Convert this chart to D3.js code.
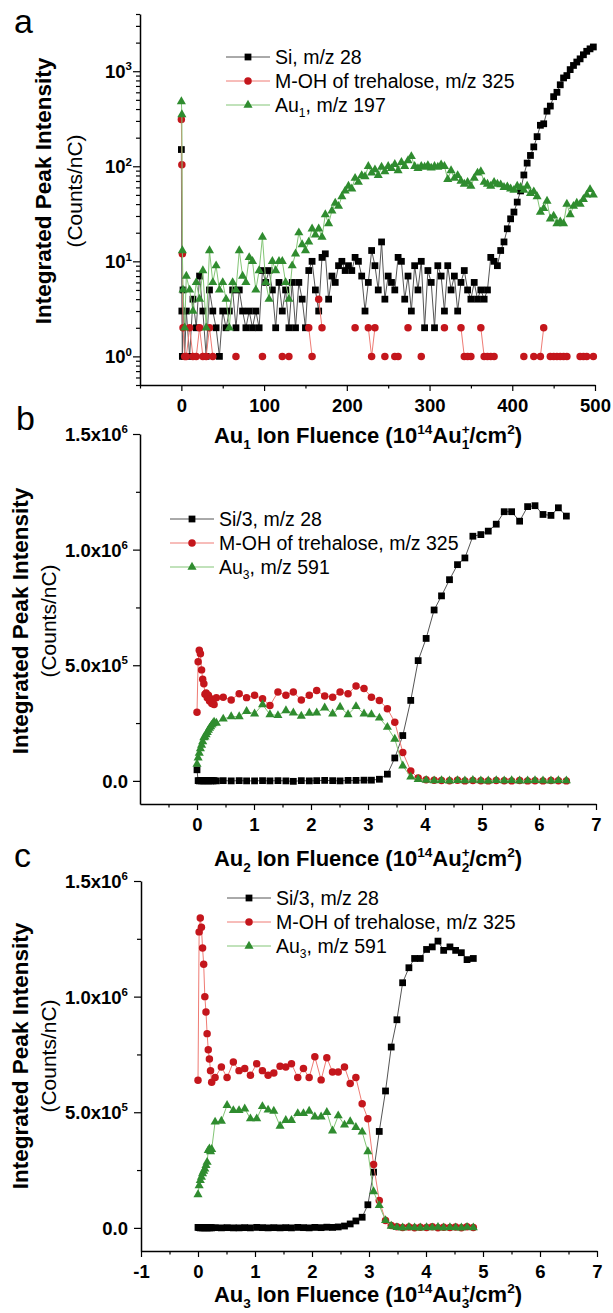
<!DOCTYPE html>
<html>
<head>
<meta charset="utf-8">
<script src="https://cdn.jsdelivr.net/npm/d3@7"></script>
<style>
body { margin: 0; background: #fff; }
svg { display: block; font-family: "Liberation Sans", Arial, sans-serif; }
</style>
</head>
<body>
<svg id="chart"></svg>
<script>
const svg_width = 613;
const svg_height = 1313;

// ---------- panel a : Au1 primary beam (log scale) ----------
const fluenceA = [0, 0.6, 1.2, 2, 4,
  6, 10, 14, 18, 22, 26, 30, 34, 38, 42, 46, 50,
  54, 58, 62, 66, 70, 74, 78, 82, 86, 90, 94, 98,
  102, 106, 110, 114, 118, 122, 126, 130, 134, 138, 142, 146, 150,
  154, 158, 162, 166, 170, 174, 178, 182, 186, 190, 194, 198,
  202, 206, 210, 214, 218, 222, 226, 230, 234, 238, 242, 246, 250,
  254, 258, 262, 266, 270, 274, 278, 282, 286, 290, 294, 298,
  302, 306, 310, 314, 318, 322, 326, 330, 334, 338, 342, 346, 350,
  354, 358, 362, 366, 370,
  374, 378, 382, 386, 390, 394, 398, 402, 406, 410, 414, 418, 422, 426, 430, 434,
  438, 442, 446, 450, 454, 458, 462, 466, 470, 474, 478, 482, 486, 490, 494, 498];
const siA = [150, 3, 1, 5, 1,
  3, 1, 4, 2, 7, 3, 1, 5, 3, 2, 1, 3,
  2, 3, 5, 2, 5, 3, 2, 3, 2, 3, 2, 8,
  6, 8, 5, 2, 6, 3, 5, 2, 6, 2, 6, 4, 2,
  8, 10, 5, 3, 11, 12, 4, 7, 6, 9, 10, 8,
  9, 8, 11, 10, 7, 3, 6, 13, 9, 5, 16, 4, 7,
  6, 5, 11, 10, 4, 7, 3, 9, 5, 10, 2, 8,
  6, 2, 9, 7, 3, 9, 5, 7, 3, 6, 8, 5, 4,
  6, 4, 5, 4, 5,
  11, 10, 9, 13, 16, 22, 28, 33, 42, 55, 81, 108, 130, 160, 205, 270,
  280, 380, 430, 540, 600, 720, 850, 900, 1040, 1150, 1250, 1350, 1490, 1620, 1720, 1800];
const mohA = [310, 104, 12, 2, 1,
  1, 2, 1, 1, 2, 1, 1, 2, 1, 0, 0, 0,
  0, 0, 0, 1, 0, 0, 0, 0, 0, 0, 0, 1,
  0, 0, 0, 0, 0, 1, 0, 1, 0, 0, 0, 0, 0,
  2, 1, 0, 4, 2, 0, 0, 0, 0, 0, 0, 0,
  0, 0, 2, 0, 0, 0, 2, 1, 2, 0, 0, 1, 0,
  0, 1, 1, 0, 0, 2, 0, 0, 0, 1, 0, 0,
  0, 0, 0, 0, 2, 0, 0, 0, 0, 2, 1, 1, 1,
  0, 0, 2, 1, 1,
  1, 1, 0, 0, 0, 0, 0, 0, 0, 0, 1, 0, 0, 1, 0, 1,
  2, 0, 1, 1, 1, 1, 1, 1, 0, 0, 0, 1, 1, 1, 0, 1];
const auA = [480, 350, 13, 5, 2,
  7, 5, 3, 6, 4, 8, 2, 13, 6, 9, 5, 6,
  4, 2, 6, 5, 13, 7, 6, 11, 10, 5, 8, 18,
  6, 4, 10, 8, 10, 10, 6, 4, 9, 12, 20, 15, 13,
  16, 22, 19, 22, 18, 31, 25, 34, 41, 38, 48, 55,
  62, 58, 75, 68, 80, 78, 100, 85, 92, 80, 98, 88, 100,
  95, 105, 90, 110, 100, 115, 127, 100, 95, 100, 98, 102,
  96, 100, 98, 104, 100, 73, 90, 75, 80, 70, 65, 68, 62,
  75, 85, 88, 68, 65,
  62, 68, 65, 64, 60, 61, 58, 56, 62, 60, 56, 62, 52, 54, 48, 33,
  36, 43, 28, 30, 25, 26, 25, 40, 31, 38, 41, 40, 45, 50, 57, 50];

// ---------- panel b : Au2 primary beam ----------
const fluenceB = [0, 0.02, 0.04, 0.06, 0.08, 0.1, 0.12, 0.14, 0.16, 0.18, 0.2, 0.22, 0.24, 0.26, 0.28, 0.3, 0.34,
  0.46, 0.6, 0.74, 0.87, 1.01, 1.15, 1.28, 1.42, 1.56, 1.69, 1.83, 1.97, 2.1, 2.24, 2.38, 2.51, 2.65, 2.79, 2.93, 3.06,
  3.2, 3.34, 3.47, 3.61, 3.75, 3.88, 4.02, 4.16, 4.29, 4.43, 4.57, 4.7, 4.84, 4.98, 5.11, 5.25, 5.39, 5.52, 5.66, 5.8,
  5.93, 6.07, 6.21, 6.34, 6.48];
const siB = [4.8e4, 1e3, 0, 1e3, 0, 1e3, 0, 1e3, 0, 1e3, 0, 1e3, 0, 1e3, 0, 1e3, 0,
  1e3, 0, 1e3, 0, 0, 1e3, 0, 1e3, 0, -2e3, 1e3, 0, 1e3, 2e3, 1e3, 0, 2e3, 2e3, 3e3, 3e3,
  7e3, 2.9e4, 9.9e4, 1.96e5, 3.48e5, 5.2e5, 6.16e5, 7.39e5, 8.0e5, 8.7e5, 9.35e5, 9.64e5, 1.058e6, 1.065e6, 1.08e6,
  1.11e6, 1.164e6, 1.164e6, 1.123e6, 1.186e6, 1.19e6, 1.152e6, 1.148e6, 1.181e6, 1.145e6];
const mohB = [2.97e5, 5.15e5, 5.65e5, 5.5e5, 4.8e5, 4.4e5, 4.2e5, 3.75e5, 3.8e5, 3.6e5, 3.7e5, 3.45e5, 3.55e5, 3.35e5, 3.45e5, 3.3e5, 3.6e5,
  3.62e5, 3.5e5, 3.77e5, 3.6e5, 3.7e5, 3.55e5, 3.26e5, 3.84e5, 3.7e5, 3.84e5, 3.5e5, 3.7e5, 3.91e5, 3.67e5, 3.62e5, 3.84e5, 3.77e5, 4.1e5, 3.99e5, 3.62e5,
  3.48e5, 3.12e5, 2.54e5, 1.23e5, 4.3e4, 1.2e4, 5e3, 3e3, 2e3, 1e3, 3e3, 0, 2e3, 1e3, 0,
  2e3, 1e3, 0, 2e3, 0, 1e3, 0, 2e3, 1e3, 0];
const auB = [7.3e4, 1.0e5, 1.2e5, 1.4e5, 1.55e5, 1.7e5, 1.87e5, 1.9e5, 2.0e5, 2.1e5, 2.2e5, 2.28e5, 2.35e5, 2.42e5, 2.48e5, 2.55e5, 2.5e5,
  2.68e5, 2.78e5, 2.78e5, 3.01e5, 2.9e5, 3.3e5, 2.87e5, 2.83e5, 3.04e5, 2.94e5, 2.8e5, 2.93e5, 2.94e5, 3.16e5, 2.9e5, 3.19e5, 2.87e5, 3.22e5, 2.9e5, 2.87e5,
  2.72e5, 2.32e5, 1.81e5, 6.5e4, 1.7e4, 7e3, 3e3, 1e3, 2e3, 0, 2e3, 1e3, 3e3, 1e3, 0,
  2e3, 1e3, 2e3, 0, 1e3, 2e3, 1e3, 0, 2e3, 1e3];

// ---------- panel c : Au3 primary beam ----------
const fluenceC = [0, 0.02, 0.04, 0.06, 0.08, 0.1, 0.12, 0.14, 0.16, 0.18, 0.2, 0.22, 0.24, 0.3,
  0.41, 0.51, 0.62, 0.72, 0.82, 0.92, 1.03, 1.13, 1.23, 1.33, 1.44, 1.54, 1.64, 1.75, 1.85, 1.95, 2.05, 2.16, 2.26, 2.36, 2.46,
  2.57, 2.67, 2.77, 2.88, 2.98, 3.08, 3.18, 3.29, 3.39, 3.49, 3.59, 3.7, 3.8, 3.9, 4.01, 4.11, 4.21, 4.31, 4.42, 4.52, 4.62, 4.72, 4.83];
const siC = [2e3, 1e3, 0, 1e3, 0, 1e3, 0, 1e3, 0, 1e3, 0, 1e3, 0, 1e3,
  0, 1e3, 0, 0, 1e3, 0, 2e3, 1e3, 0, 1e3, 0, 1e3, 0, 2e3, 1e3, 0, 2e3, 1e3, 3e3, 2e3, 4e3,
  8e3, 1.7e4, 3.0e4, 4.6e4, 1.0e5, 2.41e5, 4.17e5, 5.92e5, 7.82e5, 9.0e5, 1.06e6, 1.125e6, 1.165e6, 1.165e6, 1.204e6, 1.215e6,
  1.24e6, 1.2e6, 1.215e6, 1.2e6, 1.19e6, 1.16e6, 1.165e6];
const mohC = [6.38e5, 1.28e6, 1.34e6, 1.3e6, 1.21e6, 1.14e6, 1.0e6, 9.34e5, 8.4e5, 7.7e5, 7.3e5, 6.8e5, 6.3e5, 6.5e5,
  6.96e5, 6.5e5, 7.17e5, 6.8e5, 6.89e5, 6.6e5, 7.1e5, 6.8e5, 6.6e5, 6.7e5, 6.99e5, 6.96e5, 7.1e5, 6.5e5, 6.89e5, 6.5e5, 7.4e5, 6.4e5, 7.36e5, 6.74e5, 6.74e5,
  6.96e5, 6.24e5, 6.5e5, 5.37e5, 4.72e5, 2.74e5, 1.18e5, 3.2e4, 1e4, 5e3, 2e3, 4e3, 1e3, 3e3, 2e3, 5e3, 1e3, 3e3, 2e3, 4e3, 1e3, 5e3, 2e3];
const auC = [1.44e5, 1.83e5, 2.05e5, 2.2e5, 2.35e5, 2.45e5, 2.55e5, 2.7e5, 2.84e5, 3.35e5, 3.42e5, 3.3e5, 3.4e5, 4.58e5,
  4.62e5, 5.3e5, 5.08e5, 5.08e5, 5.15e5, 4.72e5, 4.72e5, 5.25e5, 5.1e5, 5.05e5, 4.4e5, 4.65e5, 4.65e5, 4.95e5, 4.95e5, 5.05e5, 4.8e5, 4.8e5, 5.0e5, 4.2e5, 4.85e5,
  4.45e5, 4.6e5, 4.35e5, 4.15e5, 3.3e5, 1.57e5, 9.7e4, 3.2e4, 8e3, 2e3, 0, 3e3, 1e3, 0, 2e3, 1e3, 3e3, 0, 2e3, 1e3, 0, 3e3, 1e3];

// ---------- ticks and labels ----------
const xTicksA = [0, 100, 200, 300, 400, 500];
const xMinorA = [-50, 50, 150, 250, 350, 450];
const yTicksA = [1, 10, 100, 1000];
const yLabelsA = ["10^{0}", "10^{1}", "10^{2}", "10^{3}"];
const yMinorA = [0.5, 0.6, 0.7, 0.8, 0.9, 2, 3, 4, 5, 6, 7, 8, 9, 20, 30, 40, 50, 60, 70, 80, 90,
  200, 300, 400, 500, 600, 700, 800, 900, 2000, 3000, 4000];
const xTicksB = [0, 1, 2, 3, 4, 5, 6, 7];
const xTicksC = [-1, 0, 1, 2, 3, 4, 5, 6, 7];
const xMinorBC = [-0.5, 0.5, 1.5, 2.5, 3.5, 4.5, 5.5, 6.5];
const yTicksBC = [0, 5e5, 1e6, 1.5e6];
const yLabelsBC = ["0.0", "5.0x10^{5}", "1.0x10^{6}", "1.5x10^{6}"];
const yMinorBC = [2.5e5, 7.5e5, 1.25e6];

const legendA = ["Si, m/z 28", "M-OH of trehalose, m/z 325", "Au_{1}, m/z 197"];
const legendBC = ["Si/3, m/z 28", "M-OH of trehalose, m/z 325", "Au_{3}, m/z 591"];
const xTitles = ["Au_{1} Ion Fluence (10^{14}Au^{+}_{1}/cm^{2})",
  "Au_{2} Ion Fluence (10^{14}Au^{+}_{2}/cm^{2})",
  "Au_{3} Ion Fluence (10^{14}Au^{+}_{3}/cm^{2})"];

const siStyle = {shape: d3.symbolSquare, size: 46, color: "#000", line: "#555"};
const mohStyle = {shape: d3.symbolCircle, size: 44, color: "#c4161c", line: "#ef7b74"};
const auStyle = {shape: d3.symbolTriangle, size: 36, color: "#2f8c2f", line: "#83c576"};

const svg = d3.select("#chart")
    .attr("width", svg_width)
    .attr("height", svg_height);

// text with ^{sup} and _{sub} parts
function rich(text, str, fs) {
    const parts = str.split(/(\^\{[^}]*\}|_\{[^}]*\})/).filter(p => p !== "");
    let cur = 0, prev = null, prevType = null;
    parts.forEach(p => {
        let type = "n", t = p;
        if (p.startsWith("^{")) { type = "sup"; t = p.slice(2, -1); }
        else if (p.startsWith("_{")) { type = "sub"; t = p.slice(2, -1); }
        const target = type === "sup" ? -0.42 * fs : type === "sub" ? 0.28 * fs : 0;
        const ts = text.append("tspan")
            .text(t)
            .attr("dy", target - cur)
            .style("font-size", (type === "n" ? fs : 0.62 * fs) + "px");
        if (type === "sub" && prevType === "sup") ts.attr("dx", -prev.node().getComputedTextLength());
        cur = target; prev = ts; prevType = type;
    });
}

function drawPanel(p) {
    const g = svg.append("g");
    const x = d3.scaleLinear().domain(p.xDomain).range([p.left, p.right]);
    const y = (p.log ? d3.scaleLog() : d3.scaleLinear()).domain(p.yDomain).range([p.bottom, p.top]);

    // minor ticks
    g.append("g").attr("transform", `translate(0,${p.bottom})`)
        .call(d3.axisBottom(x).tickValues(p.xMinor).tickSize(3.5).tickSizeOuter(0).tickFormat(""))
        .call(a => a.select(".domain").remove());
    g.append("g").attr("transform", `translate(${p.left},0)`)
        .call(d3.axisLeft(y).tickValues(p.yMinor).tickSize(4).tickSizeOuter(0).tickFormat(""))
        .call(a => a.select(".domain").remove());

    // major x axis
    const xa = g.append("g").attr("transform", `translate(0,${p.bottom})`)
        .call(d3.axisBottom(x).tickValues(p.xTicks).tickSize(6).tickSizeOuter(0).tickFormat(d => String(d)));
    xa.selectAll("text")
        .attr("y", 27).attr("dy", null)
        .attr("fill", "#000")
        .style("font-size", "18.5px").style("font-weight", "bold");

    // major y axis
    const ya = g.append("g").attr("transform", `translate(${p.left},0)`)
        .call(d3.axisLeft(y).tickValues(p.yTicks).tickSize(7).tickSizeOuter(0).tickFormat(""));
    ya.selectAll(".tick").each(function(d, i) {
        const t = d3.select(this).select("text")
            .attr("x", p.labelX - p.left).attr("y", 6.5).attr("dy", null)
            .attr("fill", "#000").attr("text-anchor", "end")
            .style("font-weight", "bold");
        rich(t, p.yLabels[i], 18.5);
    });

    [xa, ya].forEach(a => {
        a.attr("font-size", null).attr("font-family", null);
        a.select(".domain").attr("stroke-width", 1.5);
    });
    g.selectAll(".tick line").attr("stroke-width", 1.2);

    // series
    p.series.forEach(s => {
        const pts = p.fluence.map((f, i) => ({x: f, y: s.values[i]}))
            .filter(d => d.y !== undefined);
        const ok = d => !p.log || d.y > 0;
        g.append("path").datum(pts)
            .attr("fill", "none")
            .attr("stroke", s.style.line)
            .attr("stroke-width", 1)
            .attr("d", d3.line().defined(ok).x(d => x(d.x)).y(d => y(d.y)));
        g.append("g").selectAll("path")
            .data(pts.filter(ok))
            .join("path")
            .attr("transform", d => `translate(${x(d.x)},${y(d.y)})`)
            .attr("d", d3.symbol(s.style.shape, s.style.size))
            .attr("fill", s.style.color);
    });

    // legend
    p.series.forEach((s, i) => {
        const cy = p.legY + i * 24;
        g.append("line")
            .attr("x1", p.legX).attr("x2", p.legX + 44)
            .attr("y1", cy).attr("y2", cy)
            .attr("stroke", s.style.line).attr("stroke-width", 1);
        g.append("path")
            .attr("transform", `translate(${p.legX + 22},${cy})`)
            .attr("d", d3.symbol(s.style.shape, s.style.size))
            .attr("fill", s.style.color);
        const t = g.append("text")
            .attr("x", p.legX + 49).attr("y", cy + 6.8)
            .style("font-size", "19.5px");
        rich(t, p.legend[i], 19.5);
    });

    // axis titles
    const xt = g.append("text")
        .attr("x", 368).attr("y", p.xTitleY)
        .attr("text-anchor", "middle")
        .style("font-size", "22px").style("font-weight", "bold");
    rich(xt, p.xTitle, 22);

    const cy = p.titleCY;
    g.append("text")
        .attr("transform", `translate(${p.titleX},${cy}) rotate(-90)`)
        .attr("text-anchor", "middle")
        .style("font-size", "22.5px").style("font-weight", "bold")
        .text("Integrated Peak Intensity");
    g.append("text")
        .attr("transform", `translate(${p.countsX},${cy}) rotate(-90)`)
        .attr("text-anchor", "middle")
        .style("font-size", "21px")
        .text("(Counts/nC)");

    g.append("text")
        .attr("x", p.tagX).attr("y", p.tagY)
        .style("font-size", "34px")
        .text(p.tag);
}

drawPanel({
    tag: "a", tagX: 14, tagY: 33,
    left: 140, right: 595, top: 14, bottom: 385,
    xDomain: [-50, 500], yDomain: [0.5, 4000], log: true,
    xTicks: xTicksA, xMinor: xMinorA, yTicks: yTicksA, yMinor: yMinorA, yLabels: yLabelsA,
    labelX: 132,
    fluence: fluenceA,
    series: [{values: siA, style: siStyle}, {values: mohA, style: mohStyle}, {values: auA, style: auStyle}],
    legend: legendA, legX: 226, legY: 57,
    xTitle: xTitles[0], xTitleY: 443,
    titleX: 51, countsX: 82, titleCY: 191
});

drawPanel({
    tag: "b", tagX: 16, tagY: 430,
    left: 140, right: 596, top: 434, bottom: 804,
    xDomain: [-1, 7], yDomain: [-1e5, 1.5e6], log: false,
    xTicks: xTicksB, xMinor: xMinorBC, yTicks: yTicksBC, yMinor: yMinorBC, yLabels: yLabelsBC,
    labelX: 128,
    fluence: fluenceB,
    series: [{values: siB, style: siStyle}, {values: mohB, style: mohStyle}, {values: auB, style: auStyle}],
    legend: legendBC, legX: 170, legY: 519,
    xTitle: xTitles[1], xTitleY: 866,
    titleX: 28, countsX: 56, titleCY: 621
});

drawPanel({
    tag: "c", tagX: 14, tagY: 867,
    left: 141, right: 597, top: 881, bottom: 1251,
    xDomain: [-1, 7], yDomain: [-1e5, 1.5e6], log: false,
    xTicks: xTicksC, xMinor: xMinorBC, yTicks: yTicksBC, yMinor: yMinorBC, yLabels: yLabelsBC,
    labelX: 128,
    fluence: fluenceC,
    series: [{values: siC, style: siStyle}, {values: mohC, style: mohStyle}, {values: auC, style: auStyle}],
    legend: legendBC, legX: 227, legY: 898,
    xTitle: xTitles[2], xTitleY: 1302,
    titleX: 28, countsX: 56, titleCY: 1056
});
</script>
</body>
</html>
